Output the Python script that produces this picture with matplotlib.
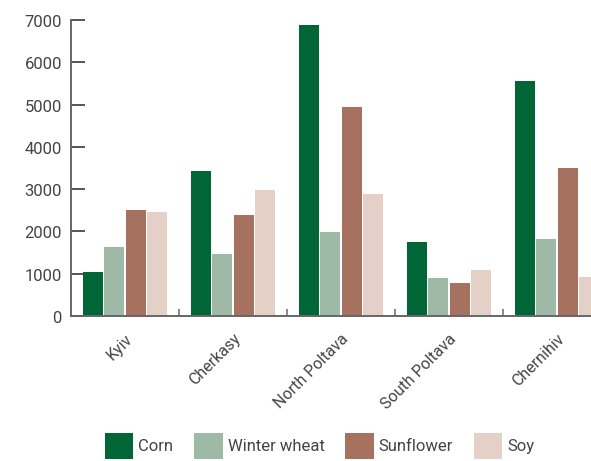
import matplotlib
matplotlib.use("Agg")
import matplotlib.pyplot as plt
import matplotlib.transforms as mtransforms
import numpy as np
from matplotlib.patches import Patch

regions = ["Kyiv", "Cherkasy", "North Poltava", "South Poltava", "Chernihiv"]
crops = ["Corn", "Winter wheat", "Sunflower", "Soy"]
corn = [1040, 3430, 6880, 1750, 5560]
winter_wheat = [1630, 1470, 1990, 900, 1820]
sunflower = [2505, 2390, 4940, 780, 3500]
soy = [2460, 2980, 2885, 1090, 920]
colors = ["#006635", "#9ebaa6", "#a77160", "#e5d0c7"]
yticks = [0, 1000, 2000, 3000, 4000, 5000, 6000, 7000]

plt.rcParams['font.family'] = ['Roboto', 'DejaVu Sans']

fig = plt.figure(figsize=(5.91, 4.61), dpi=100)
W, H = 591, 461
ax = fig.add_axes([71 / W, 1 - 316 / H, (611 - 71) / W, (316 - 20) / H])

x = np.arange(len(regions))
series = [corn, winter_wheat, sunflower, soy]
pitch = 0.2
bw = 0.185
for i, (vals, c) in enumerate(zip(series, colors)):
    ax.bar(x + (i - 1.5) * pitch, vals, width=bw, color=c, label=crops[i], zorder=2)

ax.set_xlim(-0.5, len(regions) - 0.5)
ax.set_ylim(0, 7000)
ax.set_yticks(yticks)
ax.set_yticklabels([str(v) for v in yticks])
for s in ["top", "right"]:
    ax.spines[s].set_visible(False)
for s in ["left", "bottom"]:
    ax.spines[s].set_color("#666666")
    ax.spines[s].set_linewidth(1.4)

ax.tick_params(axis="y", direction="in", length=10, width=1.4, color="#555555",
               labelsize=12, labelcolor="#444444", pad=6.5)
shift = mtransforms.ScaledTranslation(0, -2.5 / 100, fig.dpi_scale_trans)
for lbl in ax.get_yticklabels():
    lbl.set_va("center")
    lbl.set_transform(lbl.get_transform() + shift)
ax.set_xticks(x)
ax.set_xticklabels(regions, rotation=45, ha="right", rotation_mode="anchor",
                   fontsize=11.5, color="#444444")
ax.tick_params(axis="x", which="major", length=0, pad=11)
ax.set_xticks(np.arange(0.5, len(regions) - 0.5, 1), minor=True)
ax.tick_params(axis="x", which="minor", direction="in", length=5, width=1.4, color="#888888")

handles = [Patch(facecolor=c, edgecolor="none") for c in colors]
fig.legend(handles, crops, loc="upper left", bbox_to_anchor=(105 / W, 1 - 433 / H),
           ncol=4, frameon=False, fontsize=12, handlelength=1.7, handleheight=2.0,
           handletextpad=0.3, columnspacing=1.25, labelcolor="#444444",
           borderaxespad=0, borderpad=0)

fig.savefig("out.png", dpi=100)
